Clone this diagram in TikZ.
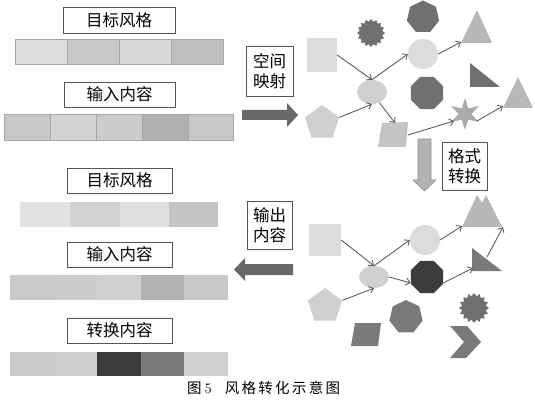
\documentclass[tikz,border=0pt]{standalone}
\usepackage{fontspec}
\newfontfamily\cjk{Noto Sans CJK SC}
\usetikzlibrary{shapes.geometric,arrows.meta}
\definecolor{cA}{HTML}{DCDCDC}
\definecolor{cB}{HTML}{D0D0D0}
\definecolor{cC}{HTML}{B8B8B8}
\definecolor{cD}{HTML}{707070}
\definecolor{cE}{HTML}{3C3C3C}
\definecolor{cF}{HTML}{7A7A7A}
\definecolor{cG}{HTML}{C4C4C4}
\definecolor{cS}{HTML}{ABABAB}
\definecolor{edge}{HTML}{555555}
\definecolor{lnk}{HTML}{5E5E5E}
\definecolor{big}{HTML}{686868}
\tikzset{
  lblbox/.style={draw=edge, line width=0.6pt, fill=white, inner sep=0pt,
    font=\cjk\fontsize{16.5}{20}\selectfont, align=center},
  shp/.style={inner sep=0pt, draw=none},
  lnkarrow/.style={draw=lnk, line width=0.9pt, -{Straight Barb[length=4pt,width=7pt]}},
  cellb/.style={draw=gray!70, line width=0.5pt},
}
% star drawn as a closed plot: #1 centre x, #2 centre y, #3 points, #4 outer r, #5 inner r
\newcommand\mystar[5]{plot[samples at={0,...,\numexpr2*#3-1\relax}, variable=\k]
  ({#1+ifthenelse(mod(\k,2)==0,#4,#5)*cos(90+180/#3*\k)},{#2-ifthenelse(mod(\k,2)==0,#4,#5)*sin(90+180/#3*\k)}) -- cycle}
\newcommand\gp{\hspace{2.3pt}}
\begin{document}
\begin{tikzpicture}[x=1pt,y=-1pt]
\useasboundingbox (0,0) rectangle (535,403);
% ---------- left column ----------
\node[lblbox, minimum width=112pt, minimum height=26pt] (b1) at (119,20) {目标风格};
\foreach \a/\b/\c in {15/67/DCDCDC,67/119/C8C8C8,119/171/D8D8D8,171/223/BEBEBE}
  {\definecolor{tmp}{HTML}{\c}\filldraw[cellb, fill=tmp] (\a,39) rectangle (\b,64);}
\node[lblbox, minimum width=111pt, minimum height=25pt] (b2) at (119.5,94.5) {输入内容};
\foreach \a/\b/\c in {4/50/C8C8C8,50/96/D2D2D2,96/142/CCCCCC,142/188/B0B0B0,188/233/C8C8C8}
  {\definecolor{tmp}{HTML}{\c}\filldraw[cellb, fill=tmp] (\a,114) rectangle (\b,140);}
\node[lblbox, minimum width=105pt, minimum height=25pt] (b5) at (119.5,180.5) {目标风格};
\foreach \a/\b/\c in {20/70/E2E2E2,70/120/D2D2D2,120/169/DEDEDE,169/218/C4C4C4}
  {\definecolor{tmp}{HTML}{\c}\fill[tmp] (\a,202) rectangle (\b,227);}
\node[lblbox, minimum width=105pt, minimum height=25pt] (b6) at (119.5,254.5) {输入内容};
\foreach \a/\b/\c in {10/55/CACACA,55/97/CCCCCC,97/141/D0D0D0,141/184/B2B2B2,184/228/C8C8C8}
  {\definecolor{tmp}{HTML}{\c}\fill[tmp] (\a,275) rectangle (\b,300);}
\node[lblbox, minimum width=105pt, minimum height=25pt] (b7) at (119.5,330.5) {转换内容};
\foreach \a/\b/\c in {10/55/CACACA,55/97/CECECE,97/141/3C3C3C,141/184/7A7A7A,184/228/D0D0D0}
  {\definecolor{tmp}{HTML}{\c}\fill[tmp] (\a,352) rectangle (\b,376);}
% ---------- labels and big arrows ----------
\node[lblbox, minimum width=47pt, minimum height=50pt] (b3) at (269.5,71) {空间\\映射};
\node[lblbox, minimum width=45pt, minimum height=48pt] (b4) at (464.5,166) {格式\\转换};
\node[lblbox, minimum width=45pt, minimum height=48pt] (b8) at (269.5,225) {输出\\内容};
\fill[big] (242,110) -- (287,110) -- (287,103) -- (298,115) -- (287,127) -- (287,120) -- (242,120) -- cycle;
\fill[big] (293,264) -- (245,264) -- (245,258) -- (234,269.5) -- (245,281) -- (245,275) -- (293,275) -- cycle;
\filldraw[fill=gray!60, draw=gray!85, line width=0.6pt] (418,139) -- (431,139) -- (431,180) -- (436,180) -- (424.5,191) -- (413,180) -- (418,180) -- cycle;
% ---------- top network ----------
\node[shp, fill=cA, minimum width=30pt, minimum height=34pt] (sq1) at (322,55) {};
\fill[cD] \mystar{371}{33}{16}{14}{11.5};
\node[shp, regular polygon, regular polygon sides=7, fill=cD, minimum size=33pt] (hp1) at (423,17) {};
\fill[cC] (461,43) -- (477,10) -- (492,43) -- cycle; \coordinate (tr1) at (461,42);
\node[shp, circle, fill=cA, minimum size=30pt] (ci1) at (423,54) {};
\node[shp, ellipse, fill=cB, minimum width=30pt, minimum height=24pt] (el1) at (372,92) {};
\fill[cD] (470,63) -- (470,87) -- (500,87) -- cycle;
\node[shp, regular polygon, regular polygon sides=8, fill=cD, minimum size=35pt] (oc1) at (427,93) {};
\fill[cC] (503,108) -- (518,77) -- (533,108) -- cycle; \coordinate (tr2) at (503,106);
\node[shp, regular polygon, regular polygon sides=5, fill=cB, minimum size=36pt] (pe1) at (322,123) {};
\fill[cG] (382,123) -- (408,122) -- (406,147) -- (378,147) -- cycle; \coordinate (pa1t) at (395,123); \coordinate (pa1r) at (408,135);
\fill[cS] \mystar{465}{114}{6}{16}{6.5};
\coordinate (s61l) at (454,121); \coordinate (s61r) at (477,121);
\draw[lnkarrow] (sq1.east) -- (el1.north);
\draw[lnkarrow] (el1.north) -- (ci1.west);
\draw[lnkarrow] (ci1.east) -- (tr1);
\draw[lnkarrow] (pe1.corner 5) -- (el1.south);
\draw[lnkarrow] (el1.-55) -- (pa1t);
\draw[lnkarrow] (pa1r) -- (s61l);
\draw[lnkarrow] (s61r) -- (tr2);
% ---------- bottom network ----------
\node[shp, fill=cA, minimum width=32pt, minimum height=32pt] (sq2) at (325,240) {};
\node[shp, circle, fill=cA, minimum size=30pt] (ci2) at (425,240) {};
\fill[cC] (462,227) -- (477,195) -- (482,203) -- (486,195) -- (502,227) -- cycle; \coordinate (mt) at (462,226); \coordinate (mtr) at (503,227);
\node[shp, ellipse, fill=cB, minimum width=30pt, minimum height=22pt] (el2) at (374,277) {};
\node[shp, regular polygon, regular polygon sides=8, fill=cE, minimum size=35pt] (oc2) at (427,277) {};
\fill[cF] (472,248) -- (472,271) -- (502,271) -- cycle; \coordinate (rt2l) at (473,268); \coordinate (rt2t) at (487,257);
\node[shp, regular polygon, regular polygon sides=5, fill=cB, minimum size=36pt] (pe2) at (325,306) {};
\node[shp, regular polygon, regular polygon sides=7, fill=cF, minimum size=34pt] (hp2) at (406,317) {};
\fill[cD] \mystar{474}{308}{16}{15}{12};
\fill[cF] (355,323) -- (381,323) -- (378,346) -- (351,346) -- cycle;
\fill[cF] (450,326) -- (467,326) -- (481,342) -- (466,358) -- (450,358) -- (464,342) -- cycle;
\draw[lnkarrow] (sq2.east) -- (el2.north);
\draw[lnkarrow] (el2.north) -- (ci2.west);
\draw[lnkarrow] (ci2.east) -- (mt);
\draw[lnkarrow] (el2.east) -- (oc2.200);
\draw[lnkarrow] (oc2.-20) -- (rt2l);
\draw[lnkarrow] (rt2t) -- (mtr);
\draw[lnkarrow] (pe2.corner 5) -- (el2.south);
% ---------- caption ----------
\node[anchor=west, inner sep=0pt, font=\cjk\fontsize{14.5}{16}\selectfont] (cap) at (187,388)
  {图\hspace{3pt}{\rmfamily 5}\hspace{13pt}风\gp 格\gp 转\gp 化\gp 示\gp 意\gp 图};
\end{tikzpicture}
\end{document}
